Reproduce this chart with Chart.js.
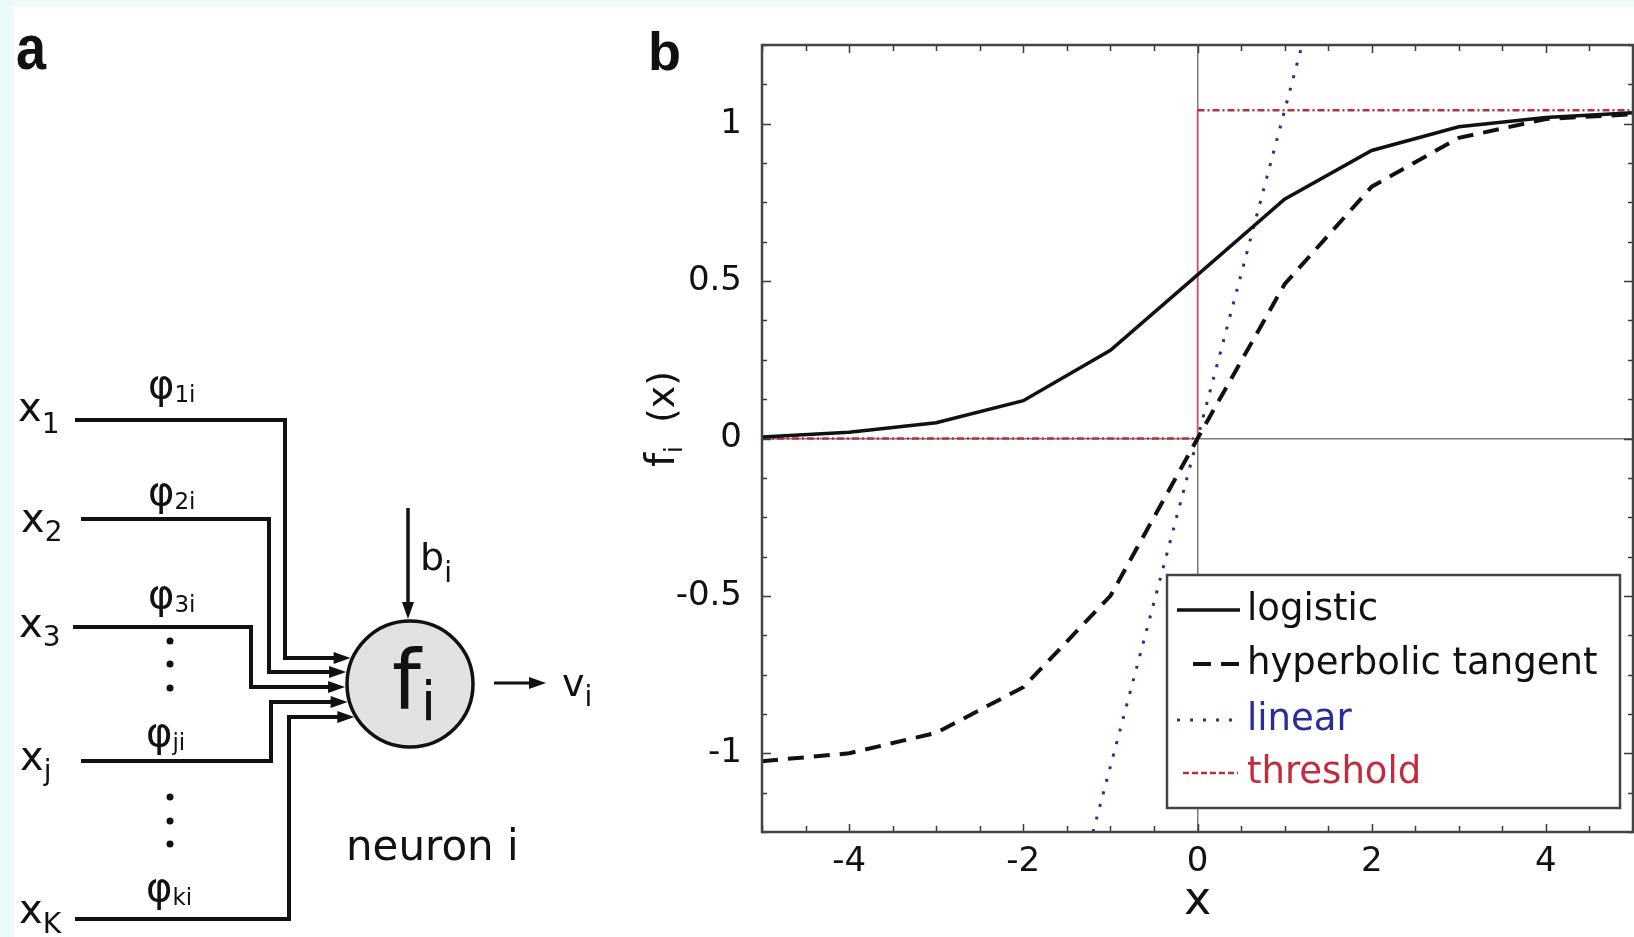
<!DOCTYPE html>
<html><head><meta charset="utf-8">
<script src="https://cdn.jsdelivr.net/npm/chart.js@4.4.1/dist/chart.umd.min.js"></script>
<style>
html,body{margin:0;padding:0;}
body{width:1634px;height:937px;background:#ecfafa;position:relative;overflow:hidden;}
#paper{position:absolute;left:14px;top:7px;width:1620px;height:930px;background:#fff;}
#wrap{position:absolute;left:600px;top:0;width:1034px;height:937px;}
#diagram{position:absolute;left:0;top:0;pointer-events:none;}
</style></head><body>
<div id="paper"></div>
<div id="wrap"><canvas id="c" width="1034" height="937" style="width:1034px;height:937px"></canvas></div>
<svg id="diagram" width="1634" height="937" xmlns="http://www.w3.org/2000/svg"></svg>
<script>
// ---- data ----
const logX = [-5, -4, -3, -2, -1, 0, 1, 2, 3, 4, 5];
const logY = [0.005, 0.02, 0.05, 0.12, 0.28, 0.52, 0.76, 0.915, 0.99, 1.02, 1.035];
const tanhX = [-5, -4, -3, -2, -1, 0, 1, 2, 3, 4, 5];
const tanhY = [-1.025, -1.0, -0.935, -0.79, -0.50, 0, 0.49, 0.80, 0.955, 1.015, 1.03];
const linX = [-1.2, 0, 1.2];
const linY = [-1.25, 0, 1.25];
const thrX = [-5, 0, 0, 5];
const thrY = [0, 0, 1.043, 1.043];
const seriesNames = ['logistic', 'hyperbolic tangent', 'linear', 'threshold'];
const xTickValues = [-4, -2, 0, 2, 4];
const xTickLabels = ['-4', '-2', '0', '2', '4'];
const yTickValues = [-1, -0.5, 0, 0.5, 1];
const yTickLabels = ['-1', '-0.5', '0', '0.5', '1'];
const xTitle = 'x';
const yTitleMain = 'f', yTitleSub = 'i', yTitleArg = '(x)';

const pts = (xs, ys) => xs.map((x, i) => ({x: x, y: ys[i]}));
const legendTextColors = ['#111', '#111', '#2b2b9c', '#c42a3c'];

const decor = {
  id: 'decor',
  afterDatasetsDraw(chart) {
    const {ctx, chartArea: a, scales: {x, y}} = chart;
    ctx.save();
    ctx.strokeStyle = '#3a3a3a'; ctx.lineWidth = 1.5; ctx.setLineDash([]);
    ctx.beginPath();
    for (let i = 0; i <= 20; i++) {
      const v = -5 + i * 0.5;
      const px = Math.round(x.getPixelForValue(v)) + 0.5;
      const len = (i % 4 === 2) ? 8 : 6;
      ctx.moveTo(px, a.bottom); ctx.lineTo(px, a.bottom - len);
      ctx.moveTo(px, a.top); ctx.lineTo(px, a.top + len);
    }
    for (let i = 0; i <= 20; i++) {
      const v = -1.25 + i * 0.125;
      const py = Math.round(y.getPixelForValue(v)) + 0.5;
      const len = (i % 4 === 2) ? 9 : 5;
      ctx.moveTo(a.left, py); ctx.lineTo(a.left + len, py);
      ctx.moveTo(a.right, py); ctx.lineTo(a.right - len, py);
    }
    ctx.stroke();
    ctx.lineWidth = 2.5; ctx.strokeStyle = '#444';
    ctx.strokeRect(a.left, a.top, a.right - a.left, a.bottom - a.top);
    ctx.restore();
  },
  afterDraw(chart) {
    const ctx = chart.ctx;
    const L = {left: 567, top: 575, right: 1020, bottom: 808};
    const rows = [610, 664, 720, 773];
    const samples = [[577, 640, null], [593, 640, [18, 10]], [577, 640, [3, 10]], [583, 638, [6, 3]]];
    ctx.save();
    ctx.fillStyle = '#fff';
    ctx.fillRect(L.left, L.top, L.right - L.left, L.bottom - L.top);
    ctx.strokeStyle = '#444'; ctx.lineWidth = 2.5;
    ctx.strokeRect(L.left, L.top, L.right - L.left, L.bottom - L.top);
    chart.data.datasets.forEach((ds, i) => {
      const s = samples[i];
      ctx.beginPath();
      ctx.setLineDash(s[2] || []);
      ctx.strokeStyle = ds.borderColor; ctx.lineWidth = ds.borderWidth;
      ctx.moveTo(s[0], rows[i]); ctx.lineTo(s[1], rows[i]); ctx.stroke();
      ctx.setLineDash([]);
      ctx.fillStyle = legendTextColors[i];
      ctx.font = '37px "DejaVu Sans"';
      ctx.textBaseline = 'middle'; ctx.textAlign = 'left';
      ctx.fillText(ds.label, 647, rows[i]);
    });
    ctx.translate(74, 467); ctx.rotate(-Math.PI / 2);
    ctx.fillStyle = '#111'; ctx.textBaseline = 'alphabetic'; ctx.textAlign = 'left';
    ctx.font = '40px "DejaVu Sans"';
    ctx.fillText(yTitleMain, 0, 0);
    let w = ctx.measureText(yTitleMain).width;
    ctx.font = '24px "DejaVu Sans"';
    ctx.fillText(yTitleSub, w, 8);
    ctx.font = '38px "DejaVu Sans"';
    ctx.fillText(yTitleArg, 44, 0);
    ctx.restore();
  }
};

const zeroGrid = c => (c.tick && c.tick.value === 0) ? '#7a7a7a' : 'rgba(0,0,0,0)';

new Chart(document.getElementById('c'), {
  type: 'line',
  data: {
    datasets: [
      {label: seriesNames[0], data: pts(logX, logY), borderColor: '#111', borderWidth: 3.5, pointRadius: 0, tension: 0},
      {label: seriesNames[1], data: pts(tanhX, tanhY), borderColor: '#111', borderWidth: 4, borderDash: [16, 10], pointRadius: 0, tension: 0},
      {label: seriesNames[2], data: pts(linX, linY), borderColor: '#2d2d8f', borderWidth: 3, borderDash: [3, 10], pointRadius: 0, tension: 0},
      {label: seriesNames[3], data: pts(thrX, thrY), borderColor: '#b8303e', borderWidth: 2.5, borderDash: [7, 3, 2, 3], pointRadius: 0, tension: 0,
        segment: {
          borderDash: c => c.p0.parsed.x === c.p1.parsed.x ? [] : undefined,
          borderColor: c => c.p0.parsed.x === c.p1.parsed.x ? '#e0506a' : undefined,
          borderWidth: c => c.p0.parsed.x === c.p1.parsed.x ? 1.5 : undefined
        }}
    ]
  },
  options: {
    responsive: false, animation: false, devicePixelRatio: 1,
    layout: {padding: {left: 0, top: 45, right: 1, bottom: 0}},
    plugins: {legend: {display: false}, tooltip: {enabled: false}},
    scales: {
      x: {
        type: 'linear', min: -5, max: 5,
        afterBuildTicks: s => { s.ticks = xTickValues.map(v => ({value: v})); },
        afterFit: s => { s.height = 105; },
        ticks: {callback: (v) => xTickLabels[xTickValues.indexOf(v)], color: '#111', padding: 10, maxRotation: 0,
          font: {family: 'DejaVu Sans', size: 34}},
        grid: {drawTicks: false, color: zeroGrid, lineWidth: 1.5},
        border: {display: false},
        title: {display: true, text: xTitle, color: '#111', font: {family: 'DejaVu Sans', size: 46}, padding: {top: 0, bottom: 7}}
      },
      y: {
        type: 'linear', min: -1.25, max: 1.25,
        afterBuildTicks: s => { s.ticks = yTickValues.map(v => ({value: v})); },
        afterFit: s => { s.width = 162; },
        ticks: {callback: (v) => yTickLabels[yTickValues.indexOf(v)], color: '#111', padding: 20,
          font: {family: 'DejaVu Sans', size: 34}},
        grid: {drawTicks: false, color: zeroGrid, lineWidth: 1.5},
        border: {display: false}
      }
    }
  },
  plugins: [decor]
});

// ---- panel a: neuron diagram (SVG) ----
(function () {
  const NS = 'http://www.w3.org/2000/svg';
  const svg = document.getElementById('diagram');
  const el = (tag, attrs, text) => {
    const e = document.createElementNS(NS, tag);
    for (const k in attrs) e.setAttribute(k, attrs[k]);
    if (text !== undefined) e.textContent = text;
    svg.appendChild(e); return e;
  };
  const ink = '#111';
  const cx = 410, cy = 684, r = 63;
  const inputs = [
    {y: 420, xs: 75, xt: 285, ya: 658},
    {y: 519, xs: 81, xt: 269, ya: 672},
    {y: 627, xs: 73, xt: 251, ya: 687},
    {y: 761, xs: 81, xt: 271, ya: 702},
    {y: 919, xs: 75, xt: 289, ya: 717}
  ];
  const arrow = (tx, ty, dir) => {
    let p;
    if (dir === 'right') p = [[tx, ty], [tx - 17, ty - 6], [tx - 17, ty + 6]];
    else p = [[tx, ty], [tx - 6, ty - 17], [tx + 6, ty - 17]];
    el('polygon', {points: p.map(q => q.join(',')).join(' '), fill: ink});
  };
  inputs.forEach(o => {
    const tip = cx - Math.sqrt(r * r - (o.ya - cy) * (o.ya - cy)) - 2;
    el('path', {d: `M${o.xs},${o.y} H${o.xt} V${o.ya} H${tip - 14}`, fill: 'none', stroke: ink, 'stroke-width': 4});
    arrow(tip, o.ya, 'right');
  });
  el('circle', {cx: cx, cy: cy, r: r, fill: '#e2e2e2', stroke: ink, 'stroke-width': 3.5});
  el('line', {x1: 408, y1: 508, x2: 408, y2: 605, stroke: ink, 'stroke-width': 3.5});
  arrow(408, 619, 'down');
  el('line', {x1: 494, y1: 683, x2: 532, y2: 683, stroke: ink, 'stroke-width': 3});
  arrow(546, 683, 'right');
  [641, 664, 688, 797, 821, 844].forEach(yy => el('circle', {cx: 170, cy: yy, r: 3.5, fill: ink}));
  const F = 'DejaVu Sans';
  const sub = (x, y, main, s, size, ssize, dy) => {
    const t = el('text', {x: x, y: y, 'font-family': F, 'font-size': size, fill: ink});
    const a = document.createElementNS(NS, 'tspan'); a.textContent = main; t.appendChild(a);
    const b = document.createElementNS(NS, 'tspan'); b.textContent = s;
    b.setAttribute('font-size', ssize); b.setAttribute('dy', dy); t.appendChild(b);
  };
  sub(18, 421, 'x', '1', 40, 28, 12);
  sub(21, 532, 'x', '2', 40, 28, 9);
  sub(19, 637, 'x', '3', 40, 28, 9);
  sub(20, 770, 'x', 'j', 40, 28, 10);
  sub(19, 923, 'x', 'K', 40, 28, 10);
  sub(148, 398, 'φ', '1i', 40, 23, 4);
  sub(148, 505, 'φ', '2i', 40, 23, 4);
  sub(148, 608, 'φ', '3i', 40, 23, 4);
  sub(146, 746, 'φ', 'ji', 40, 23, 4);
  sub(146, 901, 'φ', 'ki', 40, 23, 4);
  sub(392, 708, 'f', 'i', 82, 54, 12);
  sub(420, 570, 'b', 'i', 38, 28, 12);
  sub(562, 696, 'v', 'i', 38, 28, 10);
  el('text', {x: 346, y: 860, 'font-family': F, 'font-size': 42, fill: ink}, 'neuron i');
  el('text', {x: 0, y: 0, 'font-family': 'Liberation Sans', 'font-weight': 'bold', 'font-size': 54, fill: ink,
    transform: 'translate(16,69) scale(1,1.15)'}, 'a');
  el('text', {x: 648, y: 70, 'font-family': 'Liberation Sans', 'font-weight': 'bold', 'font-size': 54, fill: ink}, 'b');
})();
</script>
</body></html>
